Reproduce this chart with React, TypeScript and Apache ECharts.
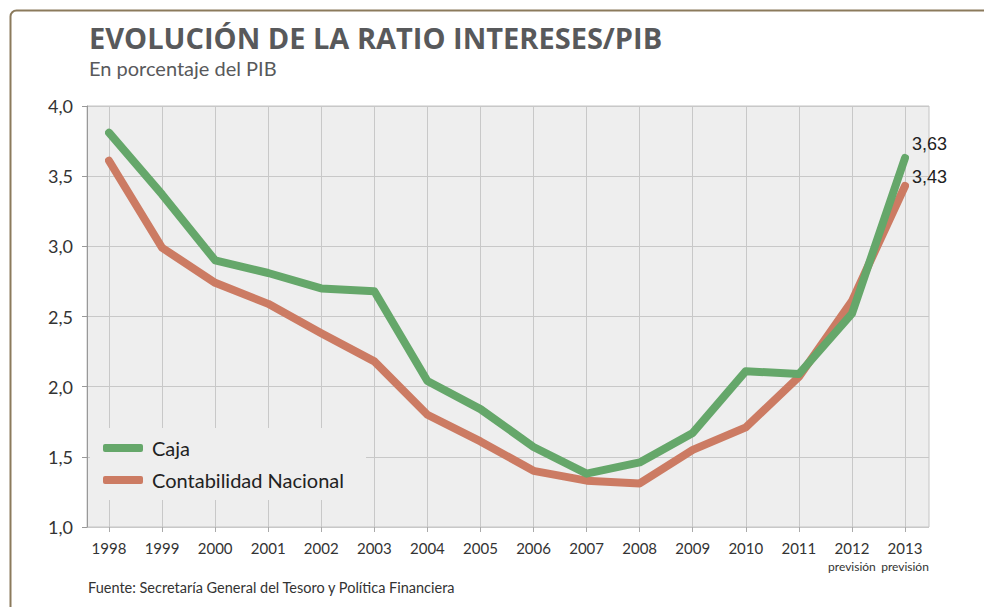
import React, { useEffect, useRef } from "react";
import * as echarts from "echarts";

const years = ["1998","1999","2000","2001","2002","2003","2004","2005","2006","2007","2008","2009","2010","2011","2012","2013"];
const forecastYears = ["2012", "2013"];
const caja = [3.81, 3.37, 2.90, 2.81, 2.70, 2.68, 2.04, 1.84, 1.57, 1.38, 1.46, 1.67, 2.11, 2.09, 2.52, 3.63];
const contabilidad = [3.61, 2.99, 2.74, 2.59, 2.38, 2.18, 1.80, 1.61, 1.40, 1.33, 1.31, 1.55, 1.71, 2.07, 2.61, 3.43];
const yTicks = { min: 1, max: 4, interval: 0.5 };

const GREEN = "#65a76a";
const RED = "#cc7b63";

const comma = (v: number, d: number) => v.toFixed(d).replace(".", ",");

const makeEndLabel = (dy: number) => ({
  show: true,
  offset: [2, dy],
  distance: 5,
  formatter: (p: any) => comma(p.value as number, 2),
  fontFamily: "Liberation Sans, Arial, sans-serif",
  fontSize: 18,
  color: "#222",
});

export default function App() {
  const ref = useRef<HTMLDivElement>(null);
  useEffect(() => {
    if (!ref.current) return;
    const chart = echarts.init(ref.current, null, { renderer: "svg" });
    const font = "Lato, 'Noto Sans', sans-serif";
    chart.setOption({
      animation: false,
      backgroundColor: "#ffffff",
      title: {
        text: "EVOLUCIÓN DE LA RATIO INTERESES/PIB",
        subtext: "En porcentaje del PIB",
        left: 84,
        top: 18,
        itemGap: 6,
        textStyle: { fontFamily: "'Open Sans', Lato, sans-serif", fontWeight: "bold", fontSize: 29, color: "#58595b" },
        subtextStyle: { fontFamily: font, fontSize: 20, color: "#58595b" },
      },
      grid: [
        { left: 87, right: 55, top: 106, bottom: 80, show: true, backgroundColor: "#eeeeee", borderColor: "#c4c4c4", borderWidth: 1 },
        { left: 109, right: 79, top: 106, bottom: 80 },
      ],
      xAxis: [
        { type: "value", gridIndex: 0, show: false, min: 0, max: 1 },
        {
          type: "category",
          gridIndex: 1,
          data: years,
          boundaryGap: false,
          axisLine: { show: false },
          axisTick: { show: true, interval: 0, length: 5, lineStyle: { color: "#aaaaaa" } },
          splitLine: { show: true, interval: 0, lineStyle: { color: "#c8c8c8", width: 1 } },
          axisLabel: {
            interval: 0,
            margin: 13,
            color: "#333",
            fontFamily: font,
            fontSize: 15,
            lineHeight: 16,
            formatter: (v: string) => (forecastYears.includes(v) ? v + "\n{p|previsión}" : v),
            rich: {
              p: { fontSize: 12, color: "#333", fontFamily: font, lineHeight: 18, padding: [2, 0, 0, 0] },
            },
          },
        },
      ],
      yAxis: [
        {
          type: "value",
          gridIndex: 0,
          min: yTicks.min,
          max: yTicks.max,
          interval: yTicks.interval,
          axisLine: { show: true, lineStyle: { color: "#999999" } },
          axisTick: { show: true, length: 5, lineStyle: { color: "#999999" } },
          splitLine: { show: true, lineStyle: { color: "#c8c8c8", width: 1 } },
          axisLabel: { margin: 14, color: "#333", fontFamily: font, fontSize: 18, formatter: (v: number) => comma(v, 1) },
        },
        { type: "value", gridIndex: 1, min: yTicks.min, max: yTicks.max, show: false, splitLine: { show: false } },
      ],
      legend: {
        orient: "vertical",
        left: 90,
        top: 428,
        backgroundColor: "#eeeeee",
        padding: [10, 22, 10, 13],
        itemGap: 12,
        itemWidth: 40,
        itemHeight: 8,
        icon: "roundRect",
        textStyle: { fontFamily: font, fontSize: 20, color: "#222", padding: [0, 0, 0, 4] },
        data: ["Caja", "Contabilidad Nacional"],
      },
      series: [
        {
          name: "Contabilidad Nacional",
          type: "line",
          xAxisIndex: 1,
          yAxisIndex: 1,
          data: contabilidad,
          symbol: "none",
          color: RED,
          lineStyle: { width: 8, color: RED, cap: "round", join: "round" },
          endLabel: makeEndLabel(-9),
        },
        {
          name: "Caja",
          type: "line",
          xAxisIndex: 1,
          yAxisIndex: 1,
          data: caja,
          symbol: "none",
          color: GREEN,
          lineStyle: { width: 8, color: GREEN, cap: "round", join: "round" },
          endLabel: makeEndLabel(-14),
        },
      ],
      graphic: [
        {
          type: "rect",
          left: 8,
          top: 8,
          shape: { width: 1000, height: 700, r: 6 },
          style: { fill: "none", stroke: "#8b7a5c", lineWidth: 2 },
          silent: true,
        },
        {
          type: "text",
          left: 88,
          top: 580,
          style: {
            text: "Fuente: Secretaría General del Tesoro y Política Financiera",
            fontFamily: font,
            fontSize: 14.5,
            fill: "#333",
          },
        },
      ],
    });
    return () => chart.dispose();
  }, []);
  return <div ref={ref} style={{ position: "fixed", left: 0, top: 0, width: 984, height: 607 }} />;
}
